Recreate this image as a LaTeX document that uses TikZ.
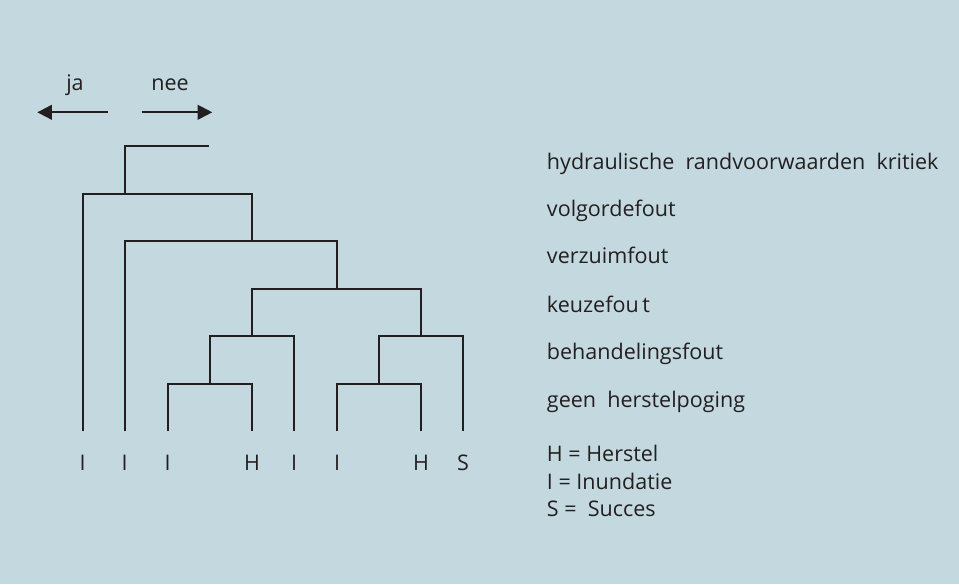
\documentclass[tikz,border=0pt]{standalone}
\usepackage{fontspec}
\setmainfont{Open Sans}
\usetikzlibrary{arrows.meta,calc}
\definecolor{achter}{RGB}{196,217,223}
\definecolor{lijn}{RGB}{35,31,32}
\tikzset{
	tak/.style={draw=lijn, line width=1.6pt},
	pijl/.style={draw=lijn, line width=1.6pt, -{Triangle[length=11pt,width=11pt]}},
	blad/.style={text=lijn, inner sep=0pt, anchor=base, font=\fontsize{16.2}{19}\selectfont},
	uitleg/.style={text=lijn, inner sep=0pt, anchor=base west, font=\fontsize{16.2}{19}\selectfont}
}

\begin{document}
\begin{tikzpicture}[x=0.02646cm, y=-0.02646cm]
				\fill[achter] (0,0) rectangle (959,584);
				\useasboundingbox (0,0) rectangle (959,584);
				
				\node[blad] (ja) at (75,90.7) {ja};
				\node[blad] (nee) at (170,90.7) {nee};
				\coordinate (jastart) at (107.7,112.3);
				\coordinate (jaeind) at (37.3,112.3);
				\coordinate (neestart) at (141.7,112.3);
				\coordinate (nee-eind) at (212.3,112.3);
				\draw[pijl] (jastart) -- (jaeind);
				\draw[pijl] (neestart) -- (nee-eind);
				
				% splitsingen
				\coordinate (start) at (208.7,146);
				\coordinate (j0) at (124.7,193.7);
				\coordinate (j1) at (252,241);
				\coordinate (j2) at (337,289);
				\coordinate (j3) at (252,336);
				\coordinate (j4) at (210,384);
				\coordinate (j5) at (421,336);
				\coordinate (j6) at (379,384);
				
				% uitkomsten
				\foreach \x [count=\i] in {82.7,124.7,167.7,252,294,337,421,463}
					\coordinate (t\i) at (\x,431);
				\foreach \l [count=\i] in {I,I,I,H,I,I,H,S}
					\node[blad] (b\i) at ($(t\i)+(0,39)$) {\l};
				
				\draw[tak] (start) -| (j0);
				\draw[tak] (t1) |- (j0) -| (j1);
				\draw[tak] (t2) |- (j1) -| (j2);
				\draw[tak] (j3) |- (j2) -| (j5);
				\draw[tak] (j4) |- (j3) -| (t5);
				\draw[tak] (t3) |- (j4) -| (t4);
				\draw[tak] (j6) |- (j5) -| (t8);
				\draw[tak] (t6) |- (j6) -| (t7);
				
				\node[uitleg] (u1) at (546.7,169.3) {hydraulische\ \ randvoorwaarden\ \ kritiek};
				\node[uitleg] (u2) at (546.7,216.7) {volgordefout};
				\node[uitleg] (u3) at (546.7,263.3) {verzuimfout};
				\node[uitleg] (u4) at (546.7,312.3) {keuzefou\,t};
				\node[uitleg] (u5) at (546.7,359.3) {behandelingsfout};
				\node[uitleg] (u6) at (546.7,407.7) {geen\ \ herstelpoging};
				\node[uitleg] (u7) at (546.7,461.7) {H = Herstel};
				\node[uitleg] (u8) at (546.7,489.3) {I = Inundatie};
				\node[uitleg] (u9) at (546.7,516.7) {S =\ \ Succes};
			\end{tikzpicture}
\end{document}
